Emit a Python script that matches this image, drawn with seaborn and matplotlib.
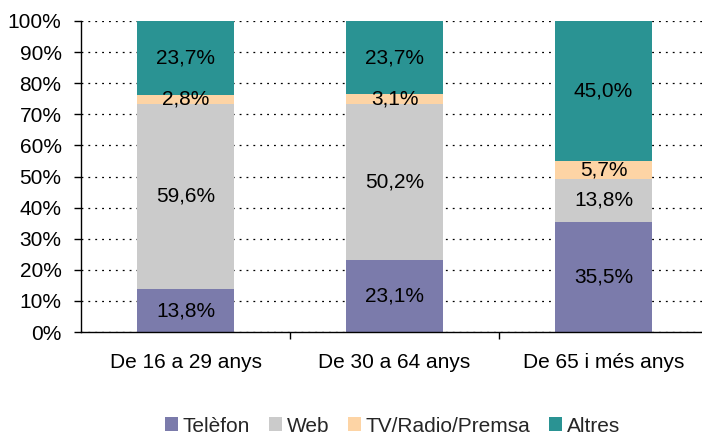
import numpy as np
import matplotlib
matplotlib.use("Agg")
import matplotlib.pyplot as plt
import seaborn as sns
from matplotlib.patches import Patch
from matplotlib.ticker import FixedLocator, PercentFormatter

# Data
groups = ["De 16 a 29 anys", "De 30 a 64 anys", "De 65 i més anys"]
series = ["Telèfon", "Web", "TV/Radio/Premsa", "Altres"]
telefon = [13.8, 23.1, 35.5]
web = [59.6, 50.2, 13.8]
tv = [2.8, 3.1, 5.7]
altres = [23.7, 23.7, 45.0]
colors = ["#7b7bab", "#cbcbcb", "#fdd4a5", "#2a9393"]

sns.set_theme(style="white")
plt.rcParams["font.family"] = ["Liberation Sans", "DejaVu Sans"]

fig = plt.figure(figsize=(7.02, 4.37), dpi=100)
ax = fig.add_axes([81 / 702, 1 - 332 / 437, 627 / 702, 311 / 437])

# stacked bars, one seaborn call per series
bottom = np.zeros(len(groups))
for name, vals, c in zip(series, [telefon, web, tv, altres], colors):
    sns.barplot(x=groups, y=vals, bottom=bottom, color=c, width=0.46,
                saturation=1, ax=ax, linewidth=0, legend=False)
    bottom += np.array(vals)

for cont in ax.containers:
    labels = [f"{b.get_height():.1f}".replace(".", ",") + "%" for b in cont]
    ax.bar_label(cont, labels=labels, label_type="center", fontsize=15, color="black")

ax.set_ylim(0, 100)
ax.set_xlim(-0.5, 2.5)
ax.set_yticks(np.arange(0, 101, 10))
ax.yaxis.set_major_formatter(PercentFormatter(decimals=0))
ax.yaxis.grid(True, color="black", linestyle=(0, (1.5, 4)), linewidth=0.9)
ax.set_axisbelow(True)
ax.tick_params(axis="y", labelsize=15, length=5, width=1, direction="out",
               left=True, colors="black", pad=9)
ax.tick_params(axis="x", which="major", length=0, labelsize=15, pad=15, colors="black")
ax.xaxis.set_minor_locator(FixedLocator([0.5, 1.5]))
ax.tick_params(axis="x", which="minor", length=5, width=1, bottom=True, color="black")

for side in ["top", "right"]:
    ax.spines[side].set_visible(False)
for side in ["left", "bottom"]:
    ax.spines[side].set_color("black")
    ax.spines[side].set_linewidth(1)

handles = [Patch(facecolor=c, edgecolor="none", label=s) for s, c in zip(series, colors)]
fig.legend(handles=handles, loc="center", bbox_to_anchor=(0.559, 1 - 426 / 437), ncol=4,
           frameon=False, fontsize=15, handlelength=0.65, handleheight=0.65,
           handletextpad=0.2, columnspacing=0.9)

fig.savefig("out.png", dpi=100)
